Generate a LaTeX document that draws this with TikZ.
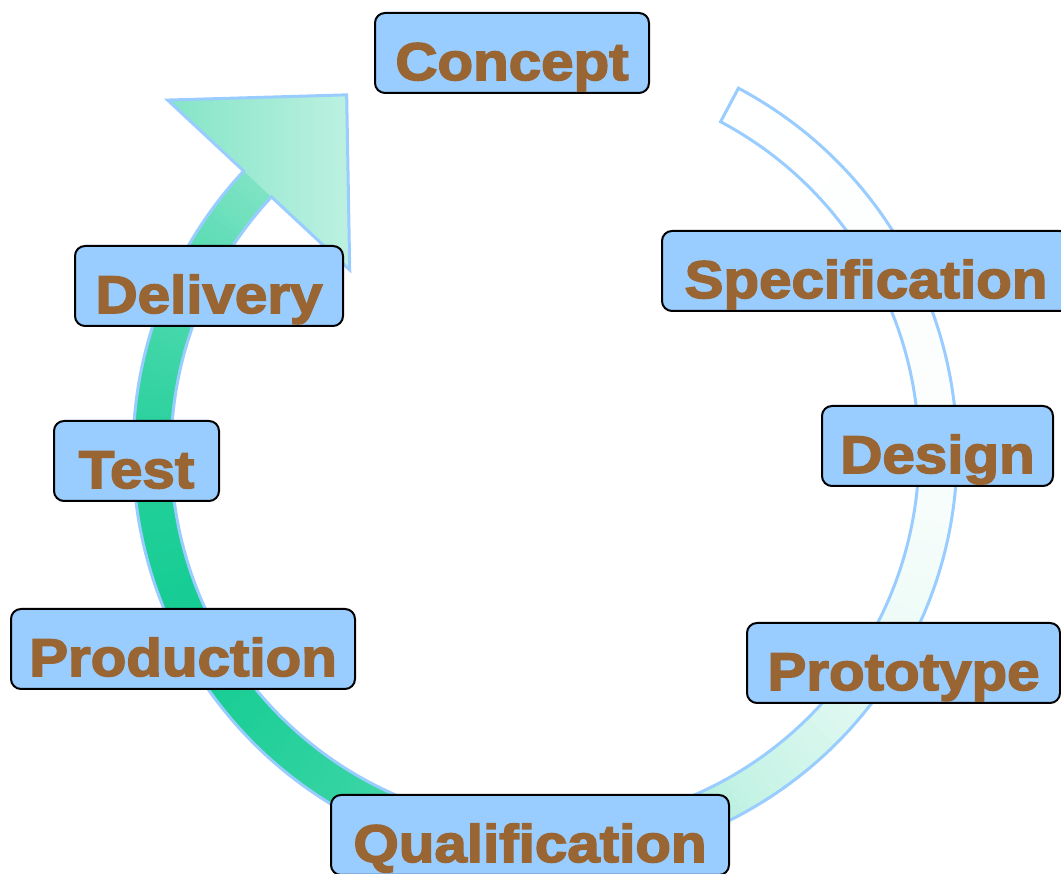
\documentclass[tikz,border=0pt]{standalone}
\usepackage{fontspec}
\newfontfamily\stagefont{Liberation Sans}[UprightFont=* Bold, FakeBold=3, FakeStretch=1.1]
\usetikzlibrary{calc}
\definecolor{boxfill}{HTML}{99CCFF}
\definecolor{labelbrown}{HTML}{996633}
\definecolor{ringedge}{HTML}{99CCFF}
\definecolor{ringgreen}{HTML}{12CC92}

\tikzset{
  stage/.style={draw=black, line width=2pt, fill=boxfill, rounded corners=10pt,
    inner sep=0pt, minimum height=80pt, text height=67pt, text depth=13pt,
    font=\stagefont\fontsize{53}{60}\selectfont, text=labelbrown},
  ringline/.style={draw=ringedge, line width=3pt, line join=miter},
}

\begin{document}
\begin{tikzpicture}[x=1pt,y=1pt]
\useasboundingbox (0,0) rectangle (1061,874);
\clip (0,0) rectangle (1061,874);

% centre of the cycle
\coordinate (C) at (545,422);

% ring body, shaded along its length
\begin{scope}
  \clip ($(C)+(62:412)$) arc[start angle=62, end angle=-224, radius=412]
        -- ($(C)+(-224:374)$) arc[start angle=-224, end angle=62, radius=374] -- cycle;
  \foreach \ta/\tb/\pa/\pb in {0/62/0/2, 62/92/2/8, 92/122/8/25, 122/152/25/55,
                               152/182/55/85, 182/212/85/100, 212/242/100/92,
                               242/272/92/70, 272/287/70/52} {
    \pgfmathtruncatemacro\tlast{\tb-1}
    \foreach \t in {\ta,...,\tlast} {
      \pgfmathsetmacro\p{\pa+(\pb-\pa)*(\t-\ta)/(\tb-\ta)}
      \pgfmathsetmacro\aa{62-\t+0.7}
      \pgfmathsetmacro\ab{62-\t-1.7}
      \fill[ringgreen!\p!white, shift={(C)}] (0,0) -- (\aa:460) -- (\ab:460) -- cycle;
    }
  }
\end{scope}

% arrow head
\coordinate (B1) at ($(C)+(137:516)$);
\coordinate (B2) at ($(C)+(137:267)$);
\coordinate (T)  at ($(C)+(137:393)+(45:126)$);
\shade[left color=ringgreen!52!white, right color=ringgreen!28!white]
  (B1) -- (T) -- (B2) -- cycle;

% outline of the whole arrow
\path[ringline] ($(C)+(62:412)$) arc[start angle=62, end angle=-223, radius=412]
  -- (B1) -- (T) -- (B2) -- ($(C)+(-223:374)$)
  arc[start angle=-223, end angle=62, radius=374] -- cycle;

% stages
\node[stage, minimum width=274pt] (concept) at (512,821)   {Concept};
\node[stage, minimum width=408pt] (spec)    at (866,603)   {Specification};
\node[stage, minimum width=231pt] (design)  at (937.5,428) {Design};
\node[stage, minimum width=313pt] (proto)   at (903.5,211) {Prototype};
\node[stage, minimum width=398pt] (qual)    at (530,39)    {Qualification};
\node[stage, minimum width=344pt] (prod)    at (183,225)   {Production};
\node[stage, minimum width=165pt] (test)    at (136.5,413) {Test};
\node[stage, minimum width=268pt] (deliv)   at (209,588)   {Delivery};
\end{tikzpicture}
\end{document}
